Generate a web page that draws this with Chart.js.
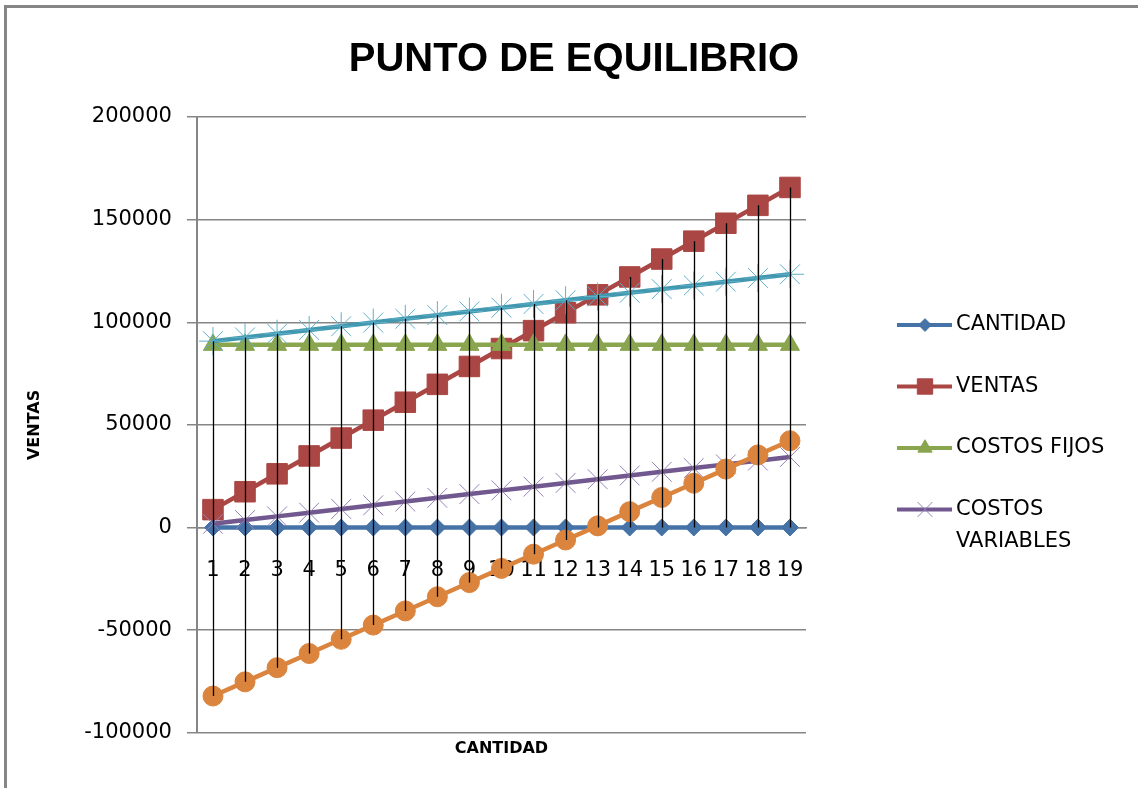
<!DOCTYPE html>
<html>
<head>
<meta charset="utf-8">
<title>Punto de equilibrio</title>
<script src="https://cdn.jsdelivr.net/npm/chart.js"></script>
<style>
  html, body { margin: 0; padding: 0; background: #fff; }
  #wrap { width: 1138px; height: 788px; position: relative; }
</style>
</head>
<body>
<div id="wrap"><canvas id="grafico"></canvas></div>
<script>
// categorias del eje X
const cantidades = ['1', '2', '3', '4', '5', '6', '7', '8', '9', '10', '11', '12', '13', '14', '15', '16', '17', '18', '19'];

// series
const cantidad = [1, 2, 3, 4, 5, 6, 7, 8, 9, 10, 11, 12, 13, 14, 15, 16, 17, 18, 19];
const ventas = [8720, 17440, 26160, 34880, 43600, 52320, 61040, 69760, 78480, 87200, 95920, 104640, 113360, 122080, 130800, 139520, 148240, 156960, 165680];
const costosFijos = [89000, 89000, 89000, 89000, 89000, 89000, 89000, 89000, 89000, 89000, 89000, 89000, 89000, 89000, 89000, 89000, 89000, 89000, 89000];
const costosVariables = [1810, 3620, 5430, 7240, 9050, 10860, 12670, 14480, 16290, 18100, 19910, 21720, 23530, 25340, 27150, 28960, 30770, 32580, 34390];
const costosTotales = [90810, 92620, 94430, 96240, 98050, 99860, 101670, 103480, 105290, 107100, 108910, 110720, 112530, 114340, 116150, 117960, 119770, 121580, 123390];
const utilidad = [-82090, -75180, -68270, -61360, -54450, -47540, -40630, -33720, -26810, -19900, -12990, -6080, 830, 7740, 14650, 21560, 28470, 35380, 42290];

// marcas del eje Y
const ticksY = [-100000, -50000, 0, 50000, 100000, 150000, 200000];

const GRIS = '#868686';
const FUENTE = '"DejaVu Sans", Verdana, sans-serif';

function serie(label, data, color, style, radius, extra) {
    return Object.assign({
        label: label,
        data: data,
        borderColor: color,
        backgroundColor: color,
        borderWidth: 4.5,
        pointStyle: style,
        pointRadius: radius,
        pointBackgroundColor: color,
        pointBorderColor: color,
        pointBorderWidth: 1,
        tension: 0,
        fill: false
    }, extra || {});
}

const datasets = [
    serie('CANTIDAD', cantidad, '#4572A7', 'rectRot', 8.5),
    serie('VENTAS', ventas, '#AA4643', 'rect', 14.5),
    serie('COSTOS FIJOS', costosFijos, '#89A54E', 'triangle', 11),
    serie('COSTOS VARIABLES', costosVariables, '#71588F', 'crossRot', 14, { pointBorderColor: '#9683b5' }),
    serie('COSTOS TOTALES', costosTotales, '#4198AF', 'star', 14, { pointBorderColor: '#5fb0c8' }),
    serie('UTILIDAD', utilidad, '#DB843D', 'circle', 10)
];
// las series posteriores quedan encima
datasets.forEach((ds, i) => { ds.order = datasets.length - 1 - i; });

// lineas verticales entre el valor mas alto y el mas bajo de cada categoria
const lineasDescenso = {
    id: 'lineasDescenso',
    afterDatasetsDraw(chart) {
        const ctx = chart.ctx;
        const metas = chart.getSortedVisibleDatasetMetas();
        ctx.save();
        ctx.strokeStyle = '#000';
        ctx.lineWidth = 1.3;
        cantidades.forEach((c, i) => {
            let top = Infinity, bottom = -Infinity, x = null;
            metas.forEach(m => {
                const p = m.data[i];
                if (!p) return;
                x = p.x;
                top = Math.min(top, p.y);
                bottom = Math.max(bottom, p.y);
            });
            if (x === null) return;
            ctx.beginPath();
            ctx.moveTo(Math.round(x) + 0.5, top);
            ctx.lineTo(Math.round(x) + 0.5, bottom);
            ctx.stroke();
        });
        ctx.restore();
    }
};

// leyenda con linea y marcador, con ajuste de texto en dos lineas
const leyenda = {
    id: 'leyenda',
    afterDraw(chart, args, opts) {
        const ctx = chart.ctx;
        ctx.save();
        ctx.font = opts.font;
        ctx.textBaseline = 'middle';
        let y = opts.top;
        chart.data.datasets.slice(0, opts.count).forEach(ds => {
            ctx.strokeStyle = ds.borderColor;
            ctx.lineWidth = 4;
            ctx.beginPath();
            ctx.moveTo(opts.x, y);
            ctx.lineTo(opts.x + 55, y);
            ctx.stroke();

            ctx.fillStyle = ds.pointBackgroundColor;
            ctx.strokeStyle = ds.pointBorderColor;
            ctx.lineWidth = ds.pointBorderWidth;
            Chart.helpers.drawPoint(ctx, {
                pointStyle: ds.pointStyle,
                radius: ds.pointRadius * 0.75,
                rotation: 0,
                borderWidth: ds.pointBorderWidth
            }, opts.x + 28, y);

            // partir el texto si no cabe
            const palabras = ds.label.split(' ');
            const lineas = [];
            let actual = '';
            palabras.forEach(p => {
                const prueba = actual ? actual + ' ' + p : p;
                if (actual && ctx.measureText(prueba).width > opts.maxWidth) {
                    lineas.push(actual);
                    actual = p;
                } else {
                    actual = prueba;
                }
            });
            lineas.push(actual);

            ctx.fillStyle = '#000';
            lineas.forEach((l, k) => ctx.fillText(l, opts.x + 59, y + k * opts.lineHeight));
            y += opts.gap + (lineas.length - 1) * opts.lineHeight;
        });
        ctx.restore();
    }
};

// titulo centrado sobre todo el lienzo
const titulo = {
    id: 'titulo',
    afterDraw(chart, args, opts) {
        const ctx = chart.ctx;
        ctx.save();
        ctx.font = opts.font;
        ctx.fillStyle = '#000';
        ctx.textAlign = 'center';
        ctx.textBaseline = 'middle';
        ctx.fillText(opts.text, chart.width / 2 + opts.dx, opts.y);
        ctx.restore();
    }
};

// fondo blanco y marco gris
const marco = {
    id: 'marco',
    beforeDraw(chart) {
        const ctx = chart.ctx;
        ctx.save();
        ctx.fillStyle = '#fff';
        ctx.fillRect(0, 0, chart.width, chart.height);
        ctx.fillStyle = GRIS;
        ctx.fillRect(4, 5, chart.width, 3);
        ctx.fillRect(4, 5, 3, chart.height);
        ctx.restore();
    }
};

const ctx = document.getElementById('grafico').getContext('2d');

new Chart(ctx, {
    type: 'line',
    data: {
        labels: cantidades,
        datasets: datasets
    },
    plugins: [marco, lineasDescenso, leyenda, titulo],
    options: {
        responsive: true,
        maintainAspectRatio: false,
        animation: false,
        layout: {
            padding: { top: 117, left: 8, right: 332, bottom: 26 }
        },
        plugins: {
            legend: { display: false },
            tooltip: { enabled: false },
            title: { display: false },
            titulo: {
                text: 'PUNTO DE EQUILIBRIO',
                font: 'bold 40px "Liberation Sans", Arial, sans-serif',
                y: 60,
                dx: 5
            },
            leyenda: {
                count: 4,
                x: 897,
                top: 325,
                gap: 61.5,
                lineHeight: 32,
                maxWidth: 165,
                font: '21px ' + FUENTE
            }
        },
        scales: {
            x: {
                type: 'category',
                position: { y: 0 },
                offset: true,
                grid: { display: true, color: 'transparent', drawTicks: false },
                border: { display: true, color: GRIS, width: 1.5 },
                ticks: {
                    color: '#000',
                    font: { family: FUENTE, size: 21 },
                    padding: 30,
                    maxRotation: 0,
                    autoSkip: false
                }
            },
            x2: {
                type: 'category',
                position: 'bottom',
                offset: true,
                grid: { display: false, drawTicks: false },
                border: { display: false },
                ticks: { display: false },
                title: {
                    display: true,
                    text: 'CANTIDAD',
                    color: '#000',
                    font: { family: FUENTE, size: 16, weight: 'bold' },
                    padding: { top: 6, bottom: 4 }
                }
            },
            y: {
                min: ticksY[0],
                max: ticksY[ticksY.length - 1],
                ticks: {
                    stepSize: ticksY[1] - ticksY[0],
                    color: '#000',
                    font: { family: FUENTE, size: 21 },
                    padding: 15,
                    callback: value => String(value)
                },
                grid: { color: GRIS, lineWidth: 1.5, tickLength: 10, drawTicks: true },
                border: { display: true, color: GRIS, width: 2 },
                title: {
                    display: true,
                    text: 'VENTAS',
                    color: '#000',
                    font: { family: FUENTE, size: 16, weight: 'bold' },
                    padding: { top: 17, bottom: 25 }
                }
            }
        }
    }
});
</script>
</body>
</html>
